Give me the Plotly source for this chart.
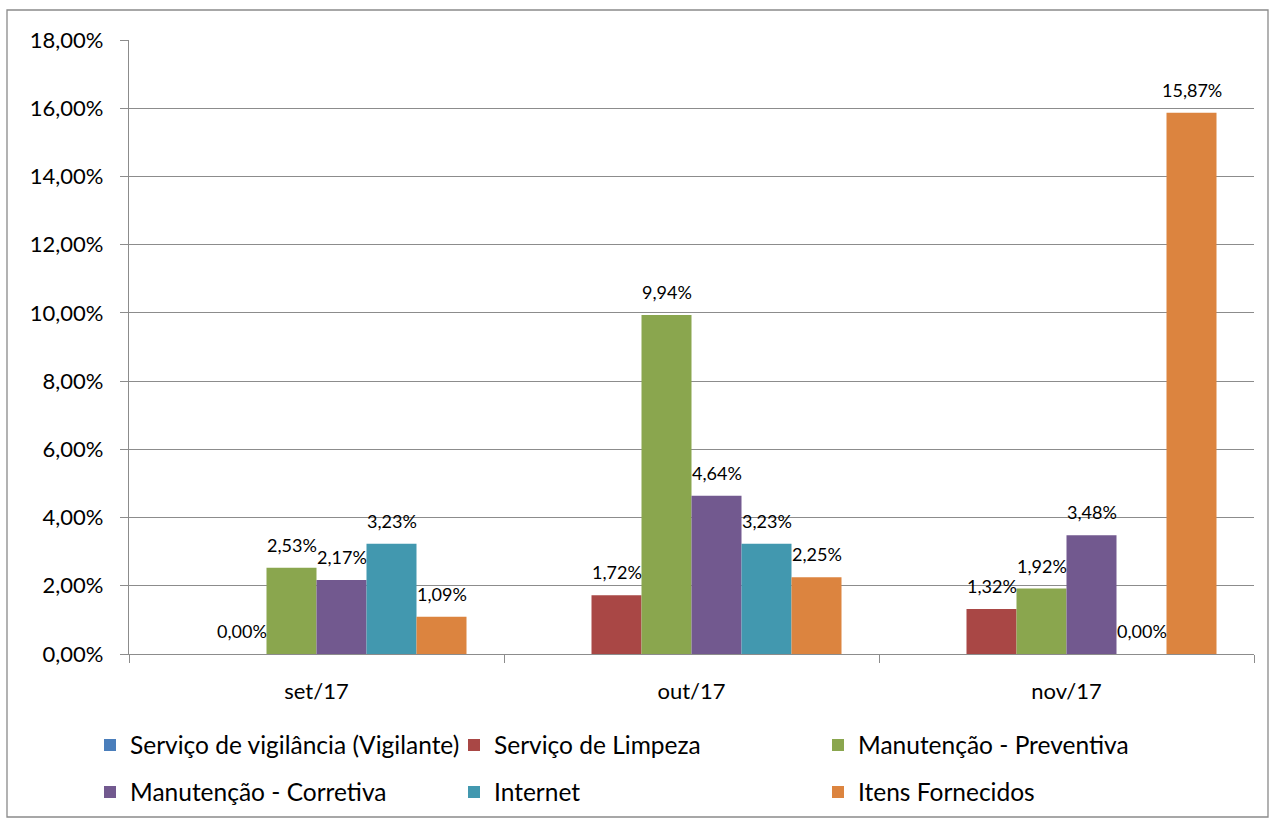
import plotly.graph_objects as go

categories = ["set/17", "out/17", "nov/17"]
series_names = [
    "Serviço de vigilância (Vigilante)",
    "Serviço de Limpeza",
    "Manutenção - Preventiva",
    "Manutenção - Corretiva",
    "Internet",
    "Itens Fornecidos",
]
vigilancia = [None, None, None]
limpeza = [0.0000, 0.0172, 0.0132]
preventiva = [0.0253, 0.0994, 0.0192]
corretiva = [0.0217, 0.0464, 0.0348]
internet = [0.0323, 0.0323, 0.0000]
itens = [0.0109, 0.0225, 0.1587]
series_values = [vigilancia, limpeza, preventiva, corretiva, internet, itens]
colors = ["#4A7EBB", "#A94745", "#8AA64E", "#72598F", "#4298AF", "#DC843F"]
legend_rows = ["legend", "legend", "legend", "legend2", "legend2", "legend2"]
y_ticks = [i / 100 for i in range(0, 19, 2)]

FONT = "Lato"
W, H = 1270, 820
ML, MR, MT, MB = 129, 16, 40, 166
pw, ph = W - ML - MR, H - MT - MB

fig = go.Figure()
for name, vals, col, lg in zip(series_names, series_values, colors, legend_rows):
    fig.add_trace(go.Bar(
        name=name, x=categories, y=vals, marker=dict(color=col, line=dict(width=0)),
        legend=lg, hoverinfo="skip",
    ))

# data labels
bargap = 0.2
n = len(series_values)
bw = (1 - bargap) / n
for i, vals in enumerate(series_values):
    off = -(1 - bargap) / 2 + (i + 0.5) * bw
    for j, v in enumerate(vals):
        if v is None:
            continue
        fig.add_annotation(
            x=j + off, y=v, xref="x", yref="y",
            text=f"{v*100:.2f}%".replace(".", ","),
            showarrow=False, yshift=23,
            font=dict(family=FONT, size=18, color="#000000"),
        )

def px_x(p):
    return (p - ML) / pw

def px_y(p):
    return (H - MB - p) / ph

# outer chart border
fig.add_shape(type="rect", xref="paper", yref="paper",
              x0=px_x(7), x1=px_x(1268), y0=px_y(817), y1=px_y(10),
              line=dict(color="#8A8A8A", width=1.3), layer="below")

grid = "#8C8C8C"
fig.update_layout(
    width=W, height=H,
    margin=dict(l=ML, r=MR, t=MT, b=MB, pad=0, autoexpand=False),
    paper_bgcolor="white", plot_bgcolor="white",
    barmode="group", bargap=bargap, bargroupgap=0,
    separators=",.",
    font=dict(family=FONT, color="#000000"),
    xaxis=dict(
        type="category", showline=True, linecolor=grid, linewidth=1.3,
        ticks="outside", tickson="boundaries", ticklen=8, tickcolor=grid, tickwidth=1.3,
        tickfont=dict(family=FONT, size=22, color="#000000"), ticklabelstandoff=17,
        showgrid=False, zeroline=False, fixedrange=True,
    ),
    yaxis=dict(
        range=[0, 0.18], tickvals=y_ticks, tickformat=".2%",
        showline=True, linecolor=grid, linewidth=1.3,
        ticks="outside", ticklen=8, tickcolor=grid, tickwidth=1.3,
        showgrid=True, gridcolor=grid, gridwidth=1.3, zeroline=False,
        tickfont=dict(family=FONT, size=22, color="#000000"), ticklabelstandoff=12,
    ),
    legend=dict(
        orientation="h", entrywidth=319, entrywidthmode="pixels",
        x=px_x(90), xanchor="left", y=px_y(745), yanchor="middle",
        font=dict(family=FONT, size=24.5, color="#000000"), bgcolor="rgba(0,0,0,0)",
        traceorder="normal",
    ),
    legend2=dict(
        orientation="h", entrywidth=319, entrywidthmode="pixels",
        x=px_x(90), xanchor="left", y=px_y(792), yanchor="middle",
        font=dict(family=FONT, size=24.5, color="#000000"), bgcolor="rgba(0,0,0,0)",
        traceorder="normal",
    ),
    showlegend=True,
)

fig.write_html("out.html", config={"displayModeBar": False},
               post_script="document.body.style.margin='0';")
